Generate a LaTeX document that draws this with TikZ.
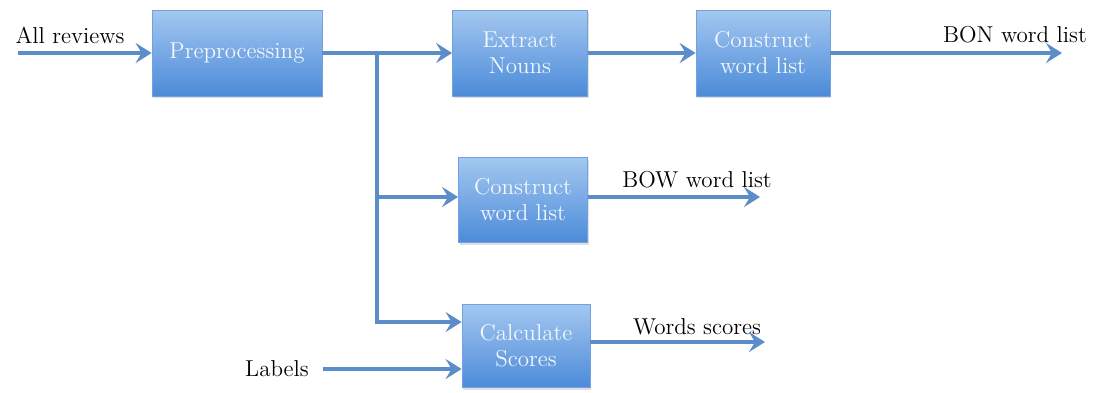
\documentclass[tikz,border=0pt]{standalone}
\usepackage{xcolor}
\usepackage{tikz}
\usetikzlibrary{calc,arrows.meta,positioning,shadows}
\definecolor{boxtop}{HTML}{A3C7F0}
\definecolor{boxbot}{HTML}{4C8BD9}
\definecolor{flow}{HTML}{5B8DC8}
\definecolor{boxtxt}{HTML}{F4F7FC}
\tikzset{
  proc/.style={rectangle, top color=boxtop, bottom color=boxbot, draw=boxbot!80!white,
    line width=0.4pt, text=boxtxt, align=center, font=\fontsize{11.5}{13}\selectfont,
    drop shadow={shadow xshift=0.6pt, shadow yshift=-1.2pt, opacity=0.25}},
  link/.style={draw=flow, line width=2pt, -{Stealth[length=8pt,width=10pt,inset=3pt]}},
  trunk/.style={draw=flow, line width=2pt},
  lab/.style={text=black, font=\fontsize{11.5}{13}\selectfont, inner sep=1pt},
}
\begin{document}
\begin{tikzpicture}[x=0.5pt,y=-0.5pt]
\useasboundingbox (0,0) rectangle (1093,392);
% boxes
\node[proc, minimum width=85pt, minimum height=43pt] (pre) at (237,53) {Preprocessing};
\node[proc, minimum width=67.5pt, minimum height=43pt] (nouns) at (520,53) {Extract\\Nouns};
\node[proc, minimum width=67pt, minimum height=43pt] (bon) at (763,53) {Construct\\word list};
\node[proc, minimum width=64.5pt, minimum height=42.5pt] (bow) at (523,200) {Construct\\word list};
\node[proc, minimum width=64pt, minimum height=41.5pt] (score) at (526,346) {Calculate\\Scores};
% texts
\node[lab] (allrev) at (70,35) {All reviews};
\node[lab] (bonlab) at (1015,35) {BON word list};
\node[lab] (bowlab) at (697,180) {BOW word list};
\node[lab] (scorelab) at (697,327) {Words scores};
\node[lab] (labels) at (277,369) {Labels};
% free ends
\coordinate (in) at (18,53);
\coordinate (j) at (377,53);
\coordinate (bonout) at (1062,53);
\coordinate (bowout) at (760,197);
\coordinate (scoreout) at (765,342);
\coordinate (lin) at (323,369);
% connectors
\draw[link] (in) -- (pre.west);
\draw[link] (pre.east) -- (nouns.west);
\draw[link] (nouns.east) -- (bon.west);
\draw[link] (bon.east) -- (bonout);
\draw[trunk] (j) -- (377,322);
\draw[link] (j) |- ($(bow.west)+(0,-3)$);
\draw[link] (j) |- ($(score.west)+(0,-24)$);
\draw[link] (lin) -- ($(score.west)+(0,23)$);
\draw[link] ($(bow.east)+(0,-3)$) -- (bowout);
\draw[link] ($(score.east)+(0,-4)$) -- (scoreout);
\end{tikzpicture}
\end{document}
